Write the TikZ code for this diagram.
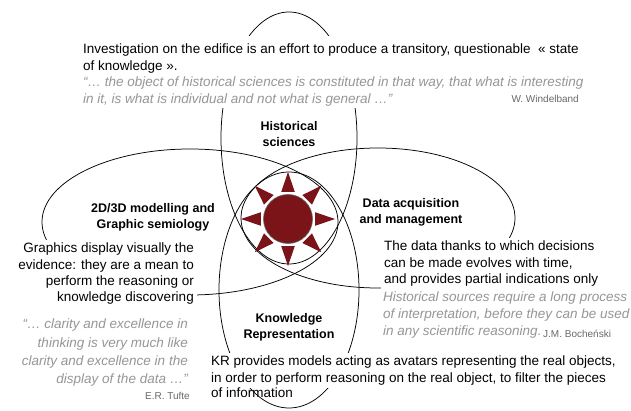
\documentclass[tikz,border=0pt]{standalone}
\usepackage{fontspec}
\setmainfont{Liberation Sans}
\usetikzlibrary{positioning, calc}
\definecolor{sunred}{RGB}{122,20,24}
\definecolor{quotegrey}{RGB}{150,150,150}
\definecolor{srcgrey}{RGB}{105,105,105}

\begin{document}
\begin{tikzpicture}[x=1pt, y=-1pt,
		petal/.style = {draw, line width=0.75pt},
		body/.style = {font=\fontsize{13.5}{16.3}\selectfont, fill=white,
					inner xsep=3pt, inner ysep=3pt},
		quote/.style = {body, font=\fontsize{13.5}{16.8}\selectfont\itshape,
					text=quotegrey},
		title/.style = {font=\fontsize{12.5}{16}\selectfont\bfseries,
					align=center, inner sep=0pt},
		source/.style = {font=\fontsize{10}{12}\selectfont, text=srcgrey,
					inner sep=0pt}
                   ]

%Frame of the picture
    \useasboundingbox (0,0) rectangle (631,411);

%Centre of the sun
    \coordinate (S) at (288,219);

%Draw petals
    \draw[petal] (289,138) ellipse [x radius=68pt, y radius=126pt];
    \draw[petal] (289,290) ellipse [x radius=70pt, y radius=118pt];
    \draw[petal] (190,222) ellipse [x radius=148pt, y radius=73pt];
    \draw[petal] (378,218) ellipse [x radius=137pt, y radius=70pt];

%Sun
    \fill[white] (S) circle (28.5pt);
    \foreach \a in {0,45,...,315}
	{
		\fill[sunred] ($(S)+(\a-14:28)$) -- ($(S)+(\a:47)$) -- ($(S)+(\a+14:28)$) -- cycle;
	}
    \filldraw[fill=sunred, draw=black!60, line width=0.6pt] (S) circle (24.5pt);

%Top text
	\node[body, inner ysep=8pt, anchor=north west, align=left] (edifice) at (80,36)
		{Investigation on the edifice is an effort to produce a transitory, questionable~ « state\\of knowledge ».};
	\node[quote, inner ysep=1pt, anchor=north west, align=left] (windq) at (80,76)
		{“… the object of historical sciences is constituted in that way, that what is interesting\\in it, is what is individual and not what is general …”};
	\node[source, anchor=base east] (windel) at (579,103) {W. Windelband};

%Titles
	\node[title] (hist) at (289,134) {Historical\\sciences};
	\node[title] (model) at (153,217) {2D/3D modelling and\\Graphic semiology};
	\node[title] (data) at (411,212) {Data acquisition\\and management};
	\node[title] (know) at (289,327) {Knowledge\\Representation};

%Right text
	\node[body, anchor=north west, align=left] (datatxt) at (381,238)
		{The data thanks to which decisions\\can be made evolves with time,\\and provides partial indications only};
	\node[quote, anchor=north west, align=left] (sources) at (380,289)
		{Historical sources require a long process\\of interpretation, before they can be used\\in any scientific reasoning.};
	\node[source, anchor=base west] (boch) at (543,337) {J.M. Bocheński};

%Left text
	\node[body, anchor=north east, align=right] (graph) at (197,240)
		{Graphics display visually the\\evidence: they are a mean to\\perform the reasoning or\\knowledge discovering};
	\node[quote, font=\fontsize{13.5}{18.3}\selectfont\itshape, anchor=north east, align=right] (tufteq) at (191,316)
		{“… clarity and excellence in\\thinking is very much like\\clarity and excellence in the\\display of the data …”};
	\node[source, anchor=base east] (tufte) at (190,399) {E.R. Tufte};

%Bottom text
	\node[body, anchor=north west, align=left] (kr) at (208,353)
		{KR provides models acting as avatars representing the real objects,\\in order to perform reasoning on the real object, to filter the pieces};
	\node[body, fill=none, anchor=north west] (krend) at (208,385) {of information};

\end{tikzpicture}
\end{document}
